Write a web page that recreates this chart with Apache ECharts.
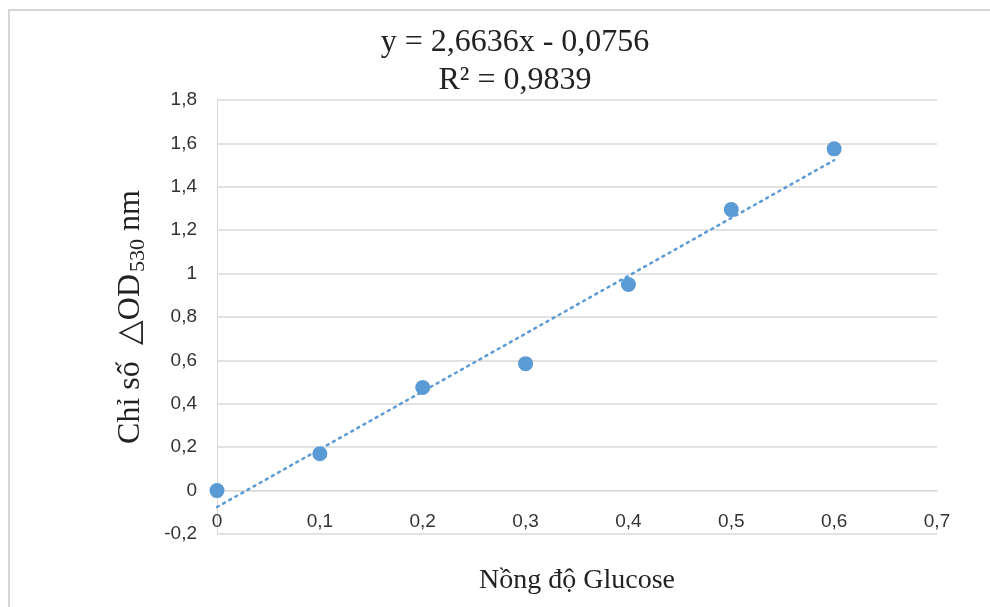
<!DOCTYPE html>
<html>
<head>
<meta charset="utf-8">
<script src="https://cdn.jsdelivr.net/npm/echarts@6/dist/echarts.min.js"></script>
<style>
  html, body { margin: 0; padding: 0; background: #fff; }
  #chart { width: 990px; height: 607px; }
</style>
</head>
<body>
<div id="chart"></div>
<script>
// nồng độ glucose (trục x) và ΔOD530 đo được
var glucose = [0, 0.1, 0.2, 0.3, 0.4, 0.5, 0.6]
var odValues = [0, 0.17, 0.475, 0.585, 0.95, 1.295, 1.575]

// đường hồi quy tuyến tính (Excel trendline)
var slope = 2.6636
var intercept = -0.0756
var trendX = [0, 0.6]

var eqLines = ['y = 2,6636x - 0,0756', 'R² = 0,9839']

var yMin = -0.2
var yMax = 1.8

var serif = '"Liberation Serif", "Times New Roman", serif'
var narrow = '"Liberation Sans Narrow", "Liberation Sans", Arial, sans-serif'
var blue = '#5b9bd5'
var gridColor = '#d9d9d9'

var gridTop = 100
var gridBottom = 73
var plotH = 607 - gridTop - gridBottom
// trục hoành nằm tại y = 0 như Excel
var xAxisOffset = -plotH * (0 - yMin) / (yMax - yMin)

function comma(v) {
  return String(Math.round(v * 10) / 10).replace('.', ',')
}

var chart = echarts.init(document.getElementById('chart'))

chart.setOption({
  animation: false,
  backgroundColor: '#fff',
  graphic: [{
    type: 'rect',
    shape: { x: 9, y: 10, width: 1000, height: 700 },
    style: { fill: 'none', stroke: '#d6d6d6', lineWidth: 2 }
  }, {
    type: 'text',
    x: 515,
    y: 24,
    style: {
      text: eqLines.join('\n'),
      font: '32px ' + serif,
      fill: '#222',
      align: 'center',
      lineHeight: 38
    }
  }],
  grid: {
    left: 217,
    right: 53,
    top: gridTop,
    bottom: gridBottom,
    containLabel: false,
    outerBoundsMode: 'none'
  },
  xAxis: {
    type: 'value',
    position: 'bottom',
    offset: xAxisOffset,
    min: 0,
    max: 0.7,
    interval: 0.1,
    name: 'Nồng độ Glucose',
    nameLocation: 'middle',
    nameGap: 76,
    nameTextStyle: { fontFamily: serif, fontSize: 28, color: '#222' },
    axisLine: { onZero: false, lineStyle: { color: gridColor } },
    axisTick: { show: false },
    splitLine: { show: false },
    axisLabel: {
      margin: 22,
      fontFamily: narrow,
      fontSize: 19,
      color: '#333',
      formatter: comma
    }
  },
  yAxis: {
    type: 'value',
    min: yMin,
    max: yMax,
    interval: 0.2,
    name: '{n|Chỉ số  △OD}{s|530}{n| nm}',
    nameLocation: 'middle',
    nameGap: 68,
    nameTextStyle: {
      rich: {
        n: { fontFamily: serif, fontSize: 32, color: '#222' },
        s: { fontFamily: serif, fontSize: 22, color: '#222', padding: [14, 0, 0, 2] }
      }
    },
    axisLine: { show: true, onZero: false, lineStyle: { color: gridColor } },
    axisTick: { show: false },
    splitLine: { lineStyle: { color: gridColor, width: 1.5 } },
    axisLabel: {
      margin: 20,
      fontFamily: narrow,
      fontSize: 19,
      color: '#333',
      formatter: comma
    }
  },
  series: [{
    type: 'line',
    data: trendX.map(function (x) { return [x, slope * x + intercept] }),
    symbol: 'none',
    lineStyle: { color: blue, width: 2.5, type: [2, 5], cap: 'round' },
    z: 2
  }, {
    type: 'scatter',
    data: glucose.map(function (x, i) { return [x, odValues[i]] }),
    symbolSize: 15,
    itemStyle: { color: blue, opacity: 1 },
    z: 3
  }]
})
</script>
</body>
</html>
